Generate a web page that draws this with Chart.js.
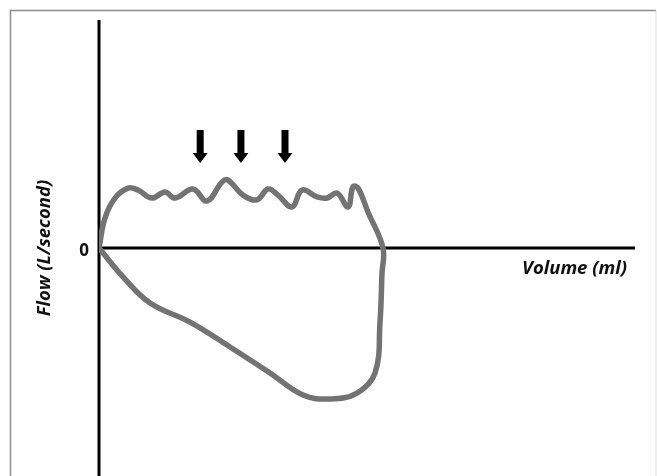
<!DOCTYPE html>
<html>
<head>
<meta charset="utf-8">
<script src="https://cdn.jsdelivr.net/npm/chart.js@4"></script>
<style>
  html, body { margin: 0; padding: 0; background: #fff; }
  #wrap { width: 657px; height: 476px; }
</style>
</head>
<body>
<div id="wrap"><canvas id="loopChart"></canvas></div>
<script>
// flow-volume loop, upper (wavy) half then the lower half back to the origin
const volumeMl = [
  0, 56, 149, 271, 364, 494, 616, 709, 877, 1007, 1147, 1203, 1343, 1474,
  1576, 1670, 1800, 1894, 2034, 2127, 2220, 2323, 2369, 2416, 2509, 2649,
  2640, 2621, 2575, 2407, 2155, 1903, 1595, 1222, 849, 476, 224, 0
];
const flowLs = [
  0, 1.32, 2.19, 2.63, 2.54, 2.19, 2.46, 2.19, 2.59, 2.06, 2.89, 2.98, 2.32, 2.11,
  2.59, 2.32, 1.80, 2.54, 2.24, 2.19, 2.41, 1.80, 2.68, 2.63, 1.58, 0,
  -1.10, -3.29, -5.48, -6.36, -6.62, -6.45, -5.48, -4.34, -3.25, -2.41, -1.27, 0
];
// arrows pointing down at the flow oscillations
const arrowVolumes = [944, 1324, 1735];
const arrowTop = 5.17;
const arrowTip = 3.73;

const xLabel = "Volume (ml)";
const yLabel = "Flow (L/second)";
const zeroLabel = "0";

const points = volumeMl.map((v, i) => ({ x: v, y: flowLs[i] }));

const FONT = "'Open Sans', 'Liberation Sans', sans-serif";

const decorPlugin = {
  id: "decor",
  beforeDatasetsDraw(chart) {
    const ctx = chart.ctx;
    const xs = chart.scales.x;
    const ys = chart.scales.y;
    const area = chart.chartArea;
    ctx.save();

    // frame round the figure
    ctx.lineWidth = 1.5;
    ctx.strokeStyle = "#8c8c8c";
    ctx.beginPath();
    ctx.moveTo(10.5, chart.height);
    ctx.lineTo(10.5, 10.5);
    ctx.lineTo(656, 10.5);
    ctx.stroke();
    ctx.strokeStyle = "#dddddd";
    ctx.lineWidth = 1;
    ctx.beginPath();
    ctx.moveTo(656, 10.5);
    ctx.lineTo(656, chart.height);
    ctx.stroke();

    // axes crossing at zero
    const x0 = xs.getPixelForValue(0);
    const y0 = ys.getPixelForValue(0);
    ctx.strokeStyle = "#000";
    ctx.lineWidth = 3;
    ctx.beginPath();
    ctx.moveTo(x0, area.top);
    ctx.lineTo(x0, area.bottom);
    ctx.moveTo(x0, y0);
    ctx.lineTo(area.right, y0);
    ctx.stroke();

    // labels
    ctx.fillStyle = "#111";
    ctx.textAlign = "center";
    ctx.textBaseline = "middle";
    ctx.font = "bold 17px " + FONT;
    ctx.fillText(zeroLabel, x0 - 15, y0 + 3);

    ctx.font = "italic bold 18.5px " + FONT;
    ctx.textAlign = "right";
    ctx.fillText(xLabel, area.right - 8, y0 + 21);

    ctx.save();
    ctx.translate(45, y0);
    ctx.rotate(-Math.PI / 2);
    ctx.textAlign = "center";
    ctx.fillText(yLabel, 0, 0);
    ctx.restore();

    // arrows
    ctx.fillStyle = "#000";
    arrowVolumes.forEach(v => {
      const ax = xs.getPixelForValue(v);
      const top = ys.getPixelForValue(arrowTop);
      const tip = ys.getPixelForValue(arrowTip);
      const headTop = tip - 10;
      ctx.beginPath();
      ctx.moveTo(ax - 3.5, top);
      ctx.lineTo(ax + 3.5, top);
      ctx.lineTo(ax + 3.5, headTop);
      ctx.lineTo(ax + 7.5, headTop);
      ctx.lineTo(ax, tip);
      ctx.lineTo(ax - 7.5, headTop);
      ctx.lineTo(ax - 3.5, headTop);
      ctx.closePath();
      ctx.fill();
    });

    ctx.restore();
  }
};

new Chart(document.getElementById("loopChart"), {
  type: "scatter",
  data: {
    datasets: [{
      data: points,
      showLine: true,
      borderColor: "#737373",
      borderWidth: 5.5,
      tension: 0.4,
      pointRadius: 0,
      fill: false,
    }],
  },
  options: {
    responsive: true,
    maintainAspectRatio: false,
    animation: false,
    layout: { padding: { left: 99, right: 22, top: 20, bottom: 0 } },
    plugins: { legend: { display: false }, tooltip: { enabled: false } },
    scales: {
      x: { type: "linear", min: 0, max: 5000, display: false },
      y: { type: "linear", min: -10, max: 10, display: false },
    },
  },
  plugins: [decorPlugin],
});
</script>
</body>
</html>
